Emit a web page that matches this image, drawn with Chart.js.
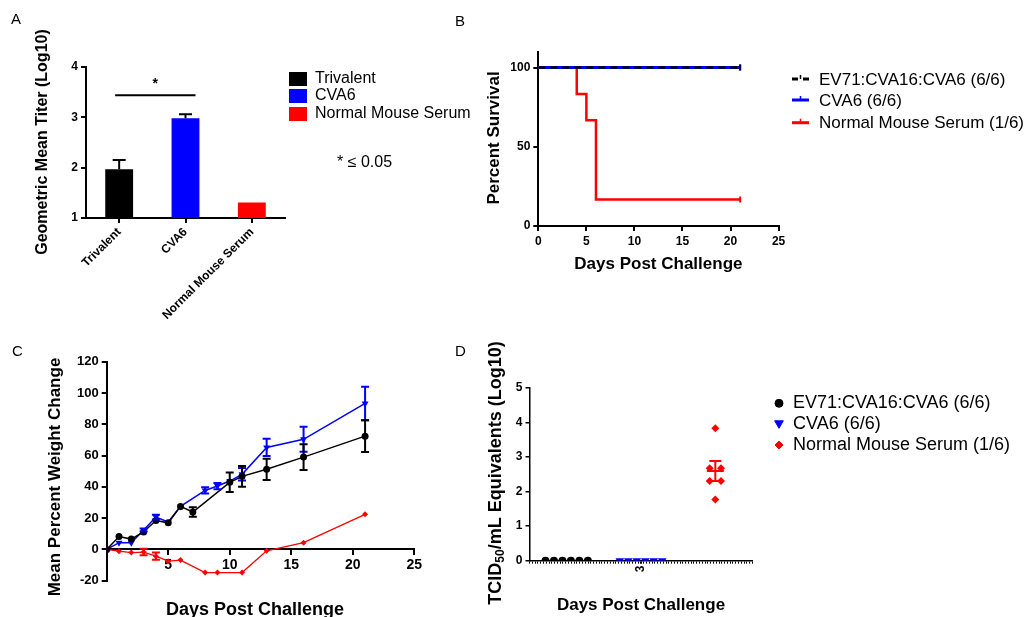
<!DOCTYPE html>
<html><head><meta charset="utf-8">
<script src="https://cdn.jsdelivr.net/npm/chart.js@4.4.1/dist/chart.umd.min.js"></script>
<style>
html,body{margin:0;padding:0;background:#fff;}
#wrap{position:relative;width:1033px;height:617px;overflow:hidden;background:#fff;}
canvas{position:absolute;left:0;top:0;}
</style></head><body>
<div id="wrap">
<canvas id="cA" width="1033" height="617"></canvas>
<canvas id="cB" width="1033" height="617"></canvas>
<canvas id="cC" width="1033" height="617"></canvas>
<canvas id="cD" width="1033" height="617"></canvas>
</div>
<script>
// ---------- DATA ----------
// Panel A: geometric mean titer (log10)
const aCategories = ['Trivalent', 'CVA6', 'Normal Mouse Serum'];
const aTiters = [1.97, 2.98, 1.31];
const aTiterErr = [0.18, 0.08, 0];
const aColors = ['#000000', '#0000ff', '#ff0000'];

// Panel B: survival
const bSeries = ['EV71:CVA16:CVA6 (6/6)', 'CVA6 (6/6)', 'Normal Mouse Serum (1/6)'];
const bDaysTri = [0, 21];
const bSurvTri = [100, 100];
const bDaysCva6 = [0, 21];
const bSurvCva6 = [100, 100];
const bDaysNms = [0, 4, 5, 6, 21];
const bSurvNms = [100, 83.3, 66.7, 16.7, 16.7];
const bYTicks = [0, 50, 100];

// Panel C: mean percent weight change
const cDaysTri = [0, 1, 2, 3, 4, 5, 6, 7, 10, 11, 13, 16, 21];
const cWeightTri = [0, 8.2, 6.6, 11.2, 18.5, 17, 27.5, 23.9, 42.9, 46.7, 51.2, 59, 72.4];
const cErrTri = [0, 0, 0, 0, 0, 0, 0, 3, 6.2, 6.6, 6.8, 8.2, 10.1];
const cDaysCva6 = [0, 1, 2, 3, 4, 5, 6, 8, 9, 10, 11, 13, 16, 21];
const cWeightCva6 = [0, 4.3, 4.3, 12.4, 20.7, 17.5, 27.5, 37.7, 40.5, 43.7, 48, 65.2, 70.4, 93.3];
const cErrCva6 = [0, 0, 0, 1, 1.5, 0, 0, 2, 2, 0, 4, 5.5, 8, 10.7];
const cDaysNms = [0, 1, 2, 3, 4, 5, 6, 8, 9, 11, 13, 16, 21];
const cWeightNms = [0, -1.1, -2, -1.7, -4.3, -7.5, -6.8, -14.8, -14.8, -14.8, -0.9, 4.3, 22.4];
const cErrNms = [0, 0, 0, 2.1, 2.3, 0, 0, 0, 0, 0, 0, 0, 0];

// Panel D: TCID50/mL equivalents (log10), day 3
const dTri = [0, 0, 0, 0, 0, 0];
const dCva6 = [0, 0, 0, 0, 0, 0];
const dNms = [3.83, 2.67, 2.67, 2.30, 2.30, 1.77];
const dMeans = [0, 0, 2.59];
const dSems = [0, 0, 0.29];
const dXLabel = '3';

// ---------- HELPERS ----------
const FONT = '"Liberation Sans", Arial, Helvetica, sans-serif';
Chart.defaults.font.family = FONT;
Chart.defaults.color = '#000';
const W = 1033, H = 617;

function frame(L, T, R, B, yW, xH) {
  return {left: L - yW, top: T, right: W - R, bottom: H - B - xH};
}
function axis(size, extra) {
  const a = {
    grid: {display: true, drawOnChartArea: false, drawTicks: true, tickLength: 5, color: '#000', lineWidth: 2},
    border: {display: true, color: '#000', width: 2},
    ticks: {color: '#000', font: {family: FONT, size: size, weight: 'bold'}, padding: 3}
  };
  return Object.assign(a, extra || {});
}
function swarm(values, center, step) {
  const counts = {}; values.forEach(v => counts[v] = (counts[v] || 0) + 1);
  const seen = {};
  return values.map(v => {
    seen[v] = seen[v] === undefined ? 0 : seen[v] + 1;
    return {x: center + (seen[v] - (counts[v] - 1) / 2) * step, y: v};
  });
}
const xy = (xs, ys) => xs.map((x, i) => ({x: x, y: ys[i]}));

const overlayPlugin = {
  id: 'overlay',
  afterDraw(chart, args, opts) {
    const ctx = chart.ctx;
    for (const it of (opts.items || [])) {
      ctx.save();
      if (it.kind === 'text') {
        ctx.fillStyle = it.color || '#000';
        ctx.textBaseline = it.baseline || 'middle';
        ctx.translate(it.x, it.y);
        if (it.rot) ctx.rotate(it.rot);
        if (it.parts) {
          let total = 0;
          it.parts.forEach(p => { ctx.font = p.font; total += ctx.measureText(p.t).width; });
          let x = -total / 2;
          ctx.textAlign = 'left';
          it.parts.forEach(p => { ctx.font = p.font; ctx.fillText(p.t, x, p.dy || 0); x += ctx.measureText(p.t).width; });
        } else {
          ctx.font = it.font;
          ctx.textAlign = it.align || 'left';
          ctx.fillText(it.text, 0, 0);
        }
      } else if (it.kind === 'rect') {
        ctx.fillStyle = it.color; ctx.fillRect(it.x, it.y, it.w, it.h);
      } else if (it.kind === 'line') {
        ctx.strokeStyle = it.color; ctx.lineWidth = it.width; ctx.setLineDash(it.dash || []);
        ctx.beginPath(); ctx.moveTo(it.x1, it.y1); ctx.lineTo(it.x2, it.y2); ctx.stroke();
      } else if (it.kind === 'point') {
        ctx.fillStyle = it.color; ctx.strokeStyle = it.color;
        Chart.helpers.drawPoint(ctx, {pointStyle: it.style, rotation: it.rot || 0, radius: it.r, borderWidth: 1}, it.x, it.y);
      }
      ctx.restore();
    }
  }
};

function drawErr(chart, sets) {
  const xs = chart.scales.x, ys = chart.scales.y, ctx = chart.ctx;
  for (const s of sets) {
    ctx.save(); ctx.strokeStyle = s.color; ctx.lineWidth = s.width || 2;
    s.xs.forEach((xv, i) => {
      const e = s.errs[i]; if (!e) return;
      const px = xs.getPixelForValue(xv);
      const top = ys.getPixelForValue(s.ys[i] + e);
      const bot = ys.getPixelForValue(s.upOnly ? s.ys[i] : s.ys[i] - e);
      ctx.beginPath();
      ctx.moveTo(px, top); ctx.lineTo(px, bot);
      ctx.moveTo(px - s.cap / 2, top); ctx.lineTo(px + s.cap / 2, top);
      if (!s.upOnly) { ctx.moveTo(px - s.cap / 2, bot); ctx.lineTo(px + s.cap / 2, bot); }
      if (s.meanW) { const m = ys.getPixelForValue(s.ys[i]); ctx.moveTo(px - s.meanW / 2, m); ctx.lineTo(px + s.meanW / 2, m); }
      ctx.stroke();
    });
    ctx.restore();
  }
}
const errorBarPlugin = {
  id: 'errorBars',
  beforeDatasetsDraw(chart, args, opts) { drawErr(chart, (opts.sets || []).filter(s => s.before)); },
  afterDatasetsDraw(chart, args, opts) { drawErr(chart, (opts.sets || []).filter(s => !s.before)); }
};
const sigPlugin = {
  id: 'sig',
  afterDatasetsDraw(chart, args, opts) {
    if (!opts.show) return;
    const xs = chart.scales.x, ys = chart.scales.y, ctx = chart.ctx;
    const x1 = xs.getPixelForValue(opts.from) + opts.dx1, x2 = xs.getPixelForValue(opts.to) + opts.dx2;
    const y = ys.getPixelForValue(opts.y);
    ctx.save(); ctx.strokeStyle = '#000'; ctx.lineWidth = 2;
    ctx.beginPath(); ctx.moveTo(x1, y); ctx.lineTo(x2, y); ctx.stroke();
    ctx.fillStyle = '#000'; ctx.font = 'bold 14px ' + FONT; ctx.textAlign = 'center'; ctx.textBaseline = 'middle';
    ctx.fillText(opts.label, (x1 + x2) / 2, y - 11);
    ctx.restore();
  }
};
const base = {responsive: false, animation: false, devicePixelRatio: 1, events: []};
const titleFont = (s) => 'bold ' + s + 'px ' + FONT;
const regFont = (s) => s + 'px ' + FONT;

// ---------- PANEL A ----------
new Chart(document.getElementById('cA'), {
  type: 'bar',
  data: {
    labels: aCategories,
    datasets: [{data: aTiters, backgroundColor: aColors, borderWidth: 0, barPercentage: 0.42, categoryPercentage: 1}]
  },
  options: Object.assign({}, base, {
    layout: {padding: frame(86, 67, 285, 218, 50, 110)},
    scales: {
      x: axis(12, {
        offset: true,
        grid: {display: true, drawOnChartArea: false, drawTicks: true, tickLength: 5, color: '#000', lineWidth: 2, offset: false},
        ticks: {color: '#000', font: {family: FONT, size: 12, weight: 'bold'}, padding: 2, minRotation: 45, maxRotation: 45, autoSkip: false},
        afterFit: s => { s.height = 110; }
      }),
      y: axis(12, {min: 1, max: 4, ticks: {color: '#000', font: {family: FONT, size: 12, weight: 'bold'}, padding: 3, stepSize: 1},
        afterFit: s => { s.width = 50; }})
    },
    plugins: {
      legend: {display: false}, tooltip: {enabled: false},
      errorBars: {sets: [{xs: [0, 1, 2], ys: aTiters, errs: aTiterErr, color: '#000', cap: 13, upOnly: true, width: 2}]},
      sig: {show: true, from: 0, to: 1, dx1: -4, dx2: 10, y: 3.44, label: '*'},
      overlay: {items: [
        {kind: 'text', text: 'A', x: 11, y: 24, baseline: 'alphabetic', font: regFont(15)},
        {kind: 'text', text: 'Geometric Mean Titer (Log10)', x: 42.5, y: 142, rot: -Math.PI / 2, align: 'center', font: titleFont(16)},
        {kind: 'rect', x: 289, y: 72, w: 18, h: 14, color: aColors[0]},
        {kind: 'rect', x: 289, y: 89, w: 18, h: 14, color: aColors[1]},
        {kind: 'rect', x: 289, y: 107, w: 18, h: 14, color: aColors[2]},
        {kind: 'text', text: aCategories[0], x: 315, y: 79, font: regFont(16)},
        {kind: 'text', text: aCategories[1], x: 315, y: 96, font: regFont(16)},
        {kind: 'text', text: aCategories[2], x: 315, y: 114, font: regFont(16)},
        {kind: 'text', text: '* \u2264 0.05', x: 337, y: 163, font: regFont(16)}
      ]}
    }
  }),
  plugins: [errorBarPlugin, sigPlugin, overlayPlugin]
});

// ---------- PANEL B ----------
const censor = (n) => (ctx) => ctx.dataIndex === n - 1 ? 3 : 0;
new Chart(document.getElementById('cB'), {
  type: 'line',
  data: {
    datasets: [
      {data: xy(bDaysTri, bSurvTri), borderColor: '#000', backgroundColor: '#000', borderWidth: 2.5, borderDash: [7, 5], stepped: true,
        pointStyle: 'line', pointRotation: 90, pointRadius: censor(bDaysTri.length), pointBorderWidth: 2, pointBorderColor: '#000'},
      {data: xy(bDaysCva6, bSurvCva6), borderColor: '#0000ff', backgroundColor: '#0000ff', borderWidth: 3, stepped: true,
        pointStyle: 'line', pointRotation: 90, pointRadius: censor(bDaysCva6.length), pointBorderWidth: 2, pointBorderColor: '#0000ff'},
      {data: xy(bDaysNms, bSurvNms), borderColor: '#ff0000', backgroundColor: '#ff0000', borderWidth: 2.5, stepped: true,
        pointStyle: 'line', pointRotation: 90, pointRadius: censor(bDaysNms.length), pointBorderWidth: 2, pointBorderColor: '#ff0000'}
    ]
  },
  options: Object.assign({}, base, {
    layout: {padding: frame(538.3, 51.7, 778.6, 226, 40, 30)},
    scales: {
      x: axis(12, {type: 'linear', min: 0, max: 25,
        ticks: {color: '#000', font: {family: FONT, size: 12, weight: 'bold'}, padding: 3, stepSize: 5},
        afterFit: s => { s.height = 30; }}),
      y: axis(12, {type: 'linear', min: 0, max: 110,
        afterBuildTicks: s => { s.ticks = bYTicks.map(v => ({value: v})); },
        afterFit: s => { s.width = 40; }})
    },
    plugins: {
      legend: {display: false}, tooltip: {enabled: false},
      overlay: {items: [
        {kind: 'text', text: 'B', x: 455, y: 26, baseline: 'alphabetic', font: regFont(15)},
        {kind: 'text', text: 'Percent Survival', x: 494.5, y: 138, rot: -Math.PI / 2, align: 'center', font: titleFont(17)},
        {kind: 'text', text: 'Days Post Challenge', x: 658.4, y: 269, baseline: 'alphabetic', align: 'center', font: titleFont(17)},
        {kind: 'line', x1: 792, y1: 79, x2: 798, y2: 79, color: '#000', width: 3},
        {kind: 'line', x1: 803, y1: 79, x2: 809, y2: 79, color: '#000', width: 3},
        {kind: 'line', x1: 800.5, y1: 75, x2: 800.5, y2: 79, color: '#000', width: 1.5},
        {kind: 'line', x1: 792, y1: 100, x2: 809, y2: 100, color: '#0000ff', width: 3},
        {kind: 'line', x1: 800.5, y1: 96, x2: 800.5, y2: 100, color: '#0000ff', width: 1.5},
        {kind: 'line', x1: 792, y1: 122.7, x2: 809, y2: 122.7, color: '#ff0000', width: 3},
        {kind: 'line', x1: 800.5, y1: 118.7, x2: 800.5, y2: 122.7, color: '#ff0000', width: 1.5},
        {kind: 'text', text: bSeries[0], x: 819, y: 80, font: regFont(17)},
        {kind: 'text', text: bSeries[1], x: 819, y: 101, font: regFont(17)},
        {kind: 'text', text: bSeries[2], x: 819, y: 123.5, font: regFont(17)}
      ]}
    }
  }),
  plugins: [overlayPlugin]
});

// ---------- PANEL C ----------
new Chart(document.getElementById('cC'), {
  type: 'line',
  data: {
    datasets: [
      {data: xy(cDaysTri, cWeightTri), borderColor: '#000', backgroundColor: '#000', borderWidth: 1.5,
        pointStyle: 'circle', pointRadius: 3.5, pointBorderWidth: 0},
      {data: xy(cDaysCva6, cWeightCva6), borderColor: '#0000ff', backgroundColor: '#0000ff', borderWidth: 1.5,
        pointStyle: 'triangle', pointRotation: 180, pointRadius: 4, pointBorderWidth: 0},
      {data: xy(cDaysNms, cWeightNms), borderColor: '#ff0000', backgroundColor: '#ff0000', borderWidth: 1.3,
        pointStyle: 'rectRot', pointRadius: 3, pointBorderWidth: 0}
    ]
  },
  options: Object.assign({}, base, {
    layout: {padding: frame(106.7, 361.7, 414.3, 580.7, 45, 0)},
    scales: {
      x: axis(14, {type: 'linear', position: {y: 0}, min: 0, max: 25,
        ticks: {color: '#000', font: {family: FONT, size: 14, weight: 'bold'}, padding: 2, stepSize: 5,
          callback: v => v === 0 ? '' : v}}),
      y: axis(13, {type: 'linear', min: -20, max: 120,
        ticks: {color: '#000', font: {family: FONT, size: 13, weight: 'bold'}, padding: 3, stepSize: 20},
        afterFit: s => { s.width = 45; }})
    },
    plugins: {
      legend: {display: false}, tooltip: {enabled: false},
      errorBars: {sets: [
        {xs: cDaysNms, ys: cWeightNms, errs: cErrNms, color: '#ff0000', cap: 8, width: 2},
        {xs: cDaysCva6, ys: cWeightCva6, errs: cErrCva6, color: '#0000ff', cap: 8, width: 2},
        {xs: cDaysTri, ys: cWeightTri, errs: cErrTri, color: '#000', cap: 8, width: 2}
      ]},
      overlay: {items: [
        {kind: 'text', text: 'C', x: 12, y: 356, baseline: 'alphabetic', font: regFont(15)},
        {kind: 'text', text: 'Mean Percent Weight Change', x: 55, y: 477, rot: -Math.PI / 2, align: 'center', font: titleFont(17)},
        {kind: 'text', text: 'Days Post Challenge', x: 255, y: 615, baseline: 'alphabetic', align: 'center', font: titleFont(18)}
      ]}
    }
  }),
  plugins: [errorBarPlugin, overlayPlugin]
});

// ---------- PANEL D ----------
new Chart(document.getElementById('cD'), {
  type: 'scatter',
  data: {
    datasets: [
      {data: swarm(dTri, 0.5, 0.114), backgroundColor: '#000', borderColor: '#000', pointStyle: 'circle', pointRadius: 4, pointBorderWidth: 0},
      {data: swarm(dCva6, 1.5, 0.114), backgroundColor: '#0000ff', borderColor: '#0000ff', pointStyle: 'triangle', pointRotation: 180, pointRadius: 5, pointBorderWidth: 0},
      {data: swarm(dNms, 2.5, 0.152), backgroundColor: '#ff0000', borderColor: '#ff0000', pointStyle: 'rectRot', pointRadius: 4, pointBorderWidth: 0}
    ]
  },
  options: Object.assign({}, base, {
    layout: {padding: frame(529.5, 387.7, 752.5, 560.7, 30, 30)},
    scales: {
      x: axis(12, {type: 'linear', min: 0, max: 3,
        grid: {display: true, drawOnChartArea: false, drawTicks: true, tickLength: 3, color: '#000',
          lineWidth: c => c.index === 40 ? 2 : 1},
        border: {display: true, color: '#000', width: 1.5},
        afterBuildTicks: s => { const t = []; for (let i = 0; i <= 80; i++) t.push({value: i * 0.0375}); s.ticks = t; },
        ticks: {color: '#000', font: {family: FONT, size: 12, weight: 'bold'}, padding: 2, autoSkip: false,
          minRotation: 90, maxRotation: 90, callback: (v, i) => i === 40 ? dXLabel : ''},
        afterFit: s => { s.height = 30; }}),
      y: axis(12, {type: 'linear', min: 0, max: 5,
        border: {display: true, color: '#000', width: 1.5},
        grid: {display: true, drawOnChartArea: false, drawTicks: true, tickLength: 4, color: '#000', lineWidth: 1.5},
        ticks: {color: '#000', font: {family: FONT, size: 12, weight: 'bold'}, padding: 3, stepSize: 1},
        afterFit: s => { s.width = 30; }})
    },
    plugins: {
      legend: {display: false}, tooltip: {enabled: false},
      errorBars: {sets: [{xs: [0.5, 1.5, 2.5], ys: dMeans, errs: dSems, color: '#ff0000', cap: 12, meanW: 17, width: 2, before: true}]},
      overlay: {items: [
        {kind: 'text', text: 'D', x: 455, y: 356, baseline: 'alphabetic', font: regFont(15)},
        {kind: 'text', x: 496, y: 473, rot: -Math.PI / 2, parts: [
          {t: 'TCID', font: titleFont(18)}, {t: '50', font: titleFont(12), dy: 5}, {t: '/mL Equivalents (Log10)', font: titleFont(18)}]},
        {kind: 'text', text: 'Days Post Challenge', x: 641, y: 609.5, baseline: 'alphabetic', align: 'center', font: titleFont(17)},
        {kind: 'point', style: 'circle', x: 779, y: 403.3, r: 4, color: '#000'},
        {kind: 'point', style: 'triangle', rot: 180, x: 779, y: 423.3, r: 5, color: '#0000ff'},
        {kind: 'point', style: 'rectRot', x: 779, y: 445, r: 4, color: '#ff0000'},
        {kind: 'text', text: bSeries[0], x: 793, y: 403.5, font: regFont(18)},
        {kind: 'text', text: bSeries[1], x: 793, y: 424.5, font: regFont(18)},
        {kind: 'text', text: bSeries[2], x: 793, y: 445.5, font: regFont(18)}
      ]}
    }
  }),
  plugins: [errorBarPlugin, overlayPlugin]
});
</script>
</body></html>
